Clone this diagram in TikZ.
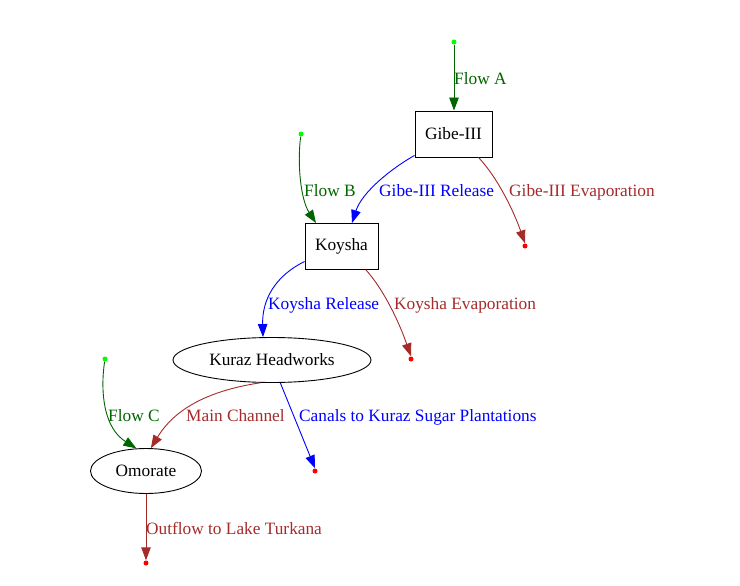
\documentclass[tikz,border=0pt]{standalone}
\usepackage{fontspec}
\setmainfont{Liberation Serif}
\usetikzlibrary{arrows.meta,shapes.geometric}
\definecolor{dgreen}{RGB}{0,100,0}
\definecolor{lgreen}{RGB}{0,255,0}
\definecolor{brn}{RGB}{165,42,42}
\begin{document}
\begin{tikzpicture}[x=1pt,y=-1pt,
  every node/.style={font=\fontsize{17.3}{21}\selectfont},
  boxnode/.style={draw,line width=0.9pt,minimum width=77pt,minimum height=46pt,inner sep=0},
  ellnode/.style={draw,ellipse,line width=0.9pt,inner sep=0},
  src/.style={circle,fill=lgreen,inner sep=0,minimum size=5pt},
  sink/.style={circle,fill=red,inner sep=0,minimum size=5pt},
  edge/.style={line width=0.9pt,-{Triangle[length=13pt,width=9.5pt]}},
  lbl/.style={anchor=base west,inner sep=0}]
\useasboundingbox (0,0) rectangle (740,586);
% nodes
\node[boxnode] (gibe) at (453.5,134) {Gibe-III};
\node[boxnode,minimum width=73pt] (koy) at (341.5,246.5) {Koysha};
\node[ellnode,minimum width=198pt,minimum height=45pt] (kuraz) at (272,360) {Kuraz Headworks};
\node[ellnode,minimum width=111pt,minimum height=45pt] (omo) at (146,471) {Omorate};
\node[src] (sa) at (454,42) {};
\node[src] (sb) at (301,134) {};
\node[src] (sc) at (105,359) {};
\node[sink] (eg) at (525,246) {};
\node[sink] (ek) at (411,359) {};
\node[sink] (ec) at (315,471) {};
\node[sink] (eo) at (146,563) {};
% edges
\draw[edge,dgreen] (sa) -- (gibe.north -| sa);
\draw[edge,dgreen] (sb) .. controls (297,165) and (301,200) .. (koy.north west -| 316,0);
\draw[edge,blue] (gibe.south west) ++(0,-2) .. controls (392,168) and (362,192) .. (koy.north -| 352,0);
\draw[edge,brn] (gibe.south) ++(25,0) .. controls (498,178) and (514,212) .. (eg.north);
\draw[edge,blue] (koy.west) ++(0,15) .. controls (275,276) and (262,300) .. (kuraz.north -| 263,0);
\draw[edge,brn] (koy.south) ++(24.5,0) .. controls (384,290) and (399,322) .. (ek.north);
\draw[edge,brn] (kuraz.243) .. controls (192,393) and (168,420) .. (omo.78);
\draw[edge,blue] (kuraz.290) -- (ec.north);
\draw[edge,dgreen] (sc) .. controls (100,393) and (104,428) .. (omo.113);
\draw[edge,brn] (omo.south) -- (eo.north);
% labels
\node[lbl,text=dgreen] (la) at (454,84.5) {Flow A};
\node[lbl,text=dgreen] (lb) at (304,196) {Flow B};
\node[lbl,text=blue] (lgr) at (379,196) {Gibe-III Release};
\node[lbl,text=brn] (lge) at (509,196) {Gibe-III Evaporation};
\node[lbl,text=blue] (lkr) at (268,309.5) {Koysha Release};
\node[lbl,text=brn] (lke) at (394,309.5) {Koysha Evaporation};
\node[lbl,text=dgreen] (lc) at (108,421.5) {Flow C};
\node[lbl,text=brn] (lm) at (186,421.5) {Main Channel};
\node[lbl,text=blue] (lca) at (299,421.5) {Canals to Kuraz Sugar Plantations};
\node[lbl,text=brn] (lo) at (146,534.5) {Outflow to Lake Turkana};
\end{tikzpicture}
\end{document}
